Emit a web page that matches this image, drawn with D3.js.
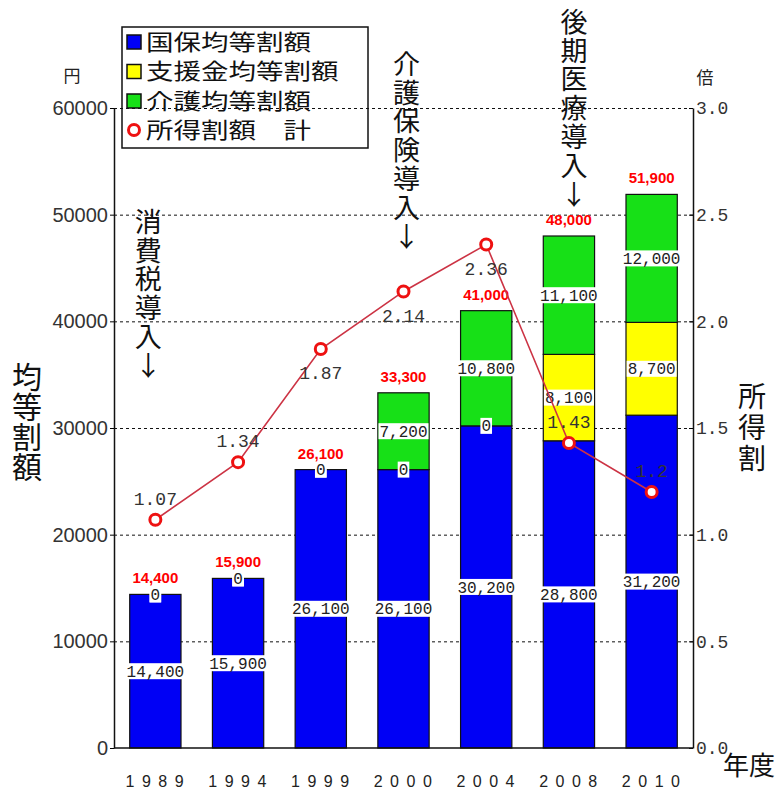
<!DOCTYPE html>
<html>
<head>
<meta charset="utf-8">
<script src="https://cdn.jsdelivr.net/npm/d3@7"></script>
<style>
  body { margin: 0; background: #fff; }
  svg { display: block; }
  .jp { font-family: "Noto Sans CJK JP", sans-serif; }
  .vert { writing-mode: vertical-rl; text-orientation: upright; }
</style>
</head>
<body>
<div id="chart"></div>
<script>
const years = ["1989", "1994", "1999", "2000", "2004", "2008", "2010"];
const kokuho = [14400, 15900, 26100, 26100, 30200, 28800, 31200];
const shienkin = [0, 0, 0, 0, 0, 8100, 8700];
const kaigo = [0, 0, 0, 7200, 10800, 11100, 12000];
const shotoku = [1.07, 1.34, 1.87, 2.14, 2.36, 1.43, 1.2];
const yTicks = [0, 10000, 20000, 30000, 40000, 50000, 60000];
const rTicks = [0, 0.5, 1.0, 1.5, 2.0, 2.5, 3.0];
const seriesNames = ["国保均等割額", "支援金均等割額", "介護均等割額"];
const lineName = "所得割額　計";
const notes = [
  { year: "1989", text: "消費税導入↓" },
  { year: "2000", text: "介護保険導入↓" },
  { year: "2008", text: "後期医療導入↓" },
];

const colors = ["#0000f5", "#ffff00", "#17e017"];
const lineColor = "#cc3344";
const markColor = "#ee1111";

const margin = { top: 108, right: 83, bottom: 46, left: 114 },
  width = 776 - margin.left - margin.right,
  height = 794 - margin.top - margin.bottom;

const svg = d3
  .select("#chart")
  .append("svg")
  .attr("width", 776)
  .attr("height", 794);

const g = svg
  .append("g")
  .attr("transform", "translate(" + margin.left + "," + margin.top + ")");

const table = years.map((yr, i) => ({
  year: yr,
  k0: kokuho[i],
  k1: shienkin[i],
  k2: kaigo[i],
}));
const keys = ["k0", "k1", "k2"];
const stacked = d3.stack().keys(keys)(table);

const x = d3.scaleBand().domain(years).range([0, width]).paddingInner(0.38).paddingOuter(0.19);
const y = d3.scaleLinear().domain([0, 60000]).range([height, 0]);
const yr = d3.scaleLinear().domain([0, 3]).range([height, 0]);
const cx = (yr0) => x(yr0) + x.bandwidth() / 2;

// grid
g.append("g")
  .call(d3.axisLeft(y).tickValues(yTicks.slice(1)).tickSize(-width).tickFormat(""))
  .call((s) => s.select(".domain").remove())
  .selectAll("line")
  .attr("stroke", "#111")
  .attr("stroke-dasharray", "3,3");

// legend (drawn under bars)
const leg = svg.append("g").attr("transform", "translate(122,27)");
leg.append("rect").attr("width", 246).attr("height", 121)
  .attr("fill", "none").attr("stroke", "#111").attr("stroke-width", 1.5);
seriesNames.forEach((name, i) => {
  const ry = 15 + i * 29.5;
  leg.append("rect").attr("x", 5).attr("y", ry - 7).attr("width", 14).attr("height", 14)
    .attr("fill", colors[i]).attr("stroke", "#111").attr("stroke-width", 1.5);
  leg.append("text").attr("class", "jp").attr("x", 24).attr("y", ry)
    .attr("dy", "0.36em").attr("font-size", 22).attr("fill", "#111")
    .attr("textLength", name.length * 27.5).attr("lengthAdjust", "spacingAndGlyphs")
    .text(name);
});
leg.append("circle").attr("cx", 12).attr("cy", 103).attr("r", 5.5)
  .attr("fill", "#fff").attr("stroke", markColor).attr("stroke-width", 3);
leg.append("text").attr("class", "jp").attr("x", 24).attr("y", 103)
  .attr("dy", "0.36em").attr("font-size", 22).attr("fill", "#111")
  .attr("textLength", lineName.length * 27.5).attr("lengthAdjust", "spacingAndGlyphs")
  .text(lineName);

// bars
g.selectAll("g.layer")
  .data(stacked)
  .join("g")
  .attr("class", "layer")
  .attr("fill", (d, i) => colors[i])
  .selectAll("rect")
  .data((d) => d)
  .join("rect")
  .attr("x", (d) => x(d.data.year))
  .attr("y", (d) => y(d[1]))
  .attr("width", x.bandwidth())
  .attr("height", (d) => y(d[0]) - y(d[1]))
  .attr("stroke", "#111")
  .attr("stroke-width", 1.2);

// segment labels
const fmt = d3.format(",");
stacked.forEach((layer) => {
  layer.forEach((d) => {
    const lx = cx(d.data.year);
    const ly = y((d[0] + d[1]) / 2);
    const lg = g.append("g");
    const t = lg.append("text")
      .attr("x", lx).attr("y", ly).attr("dy", "0.35em")
      .attr("text-anchor", "middle")
      .attr("font-family", "Liberation Mono, monospace")
      .attr("font-size", 16).attr("fill", "#222")
      .text(fmt(d[1] - d[0]));
    const b = t.node().getBBox();
    lg.insert("rect", "text")
      .attr("x", b.x - 1).attr("y", ly - 8).attr("width", b.width + 2).attr("height", 16)
      .attr("fill", "#fff");
  });
});

// totals
g.selectAll("text.total")
  .data(table)
  .join("text")
  .attr("class", "total")
  .attr("x", (d) => cx(d.year))
  .attr("y", (d) => y(d.k0 + d.k1 + d.k2) - 11)
  .attr("text-anchor", "middle")
  .attr("font-family", "Liberation Sans, Arial, sans-serif")
  .attr("font-weight", "bold")
  .attr("font-size", 15)
  .attr("fill", "#ff0000")
  .text((d) => fmt(d.k0 + d.k1 + d.k2));

// ratio line
const line = d3.line().x((d, i) => cx(years[i])).y((d) => yr(d));
g.append("path").datum(shotoku)
  .attr("d", line).attr("fill", "none")
  .attr("stroke", lineColor).attr("stroke-width", 1.6);

const below = new Set([2, 3, 4]);
g.selectAll("text.ratio")
  .data(shotoku)
  .join("text")
  .attr("class", "ratio")
  .attr("x", (d, i) => cx(years[i]))
  .attr("y", (d, i) => yr(d) + (below.has(i) ? 24 : -21))
  .attr("dy", "0.35em")
  .attr("text-anchor", "middle")
  .attr("font-family", "Liberation Mono, monospace")
  .attr("font-size", 18)
  .attr("fill", "#333")
  .text((d) => String(d));

g.selectAll("circle.mark")
  .data(shotoku)
  .join("circle")
  .attr("class", "mark")
  .attr("cx", (d, i) => cx(years[i]))
  .attr("cy", (d) => yr(d))
  .attr("r", 5.5)
  .attr("fill", "#fff")
  .attr("stroke", markColor)
  .attr("stroke-width", 3);

// axes
const yAxisG = g.append("g")
  .call(d3.axisLeft(y).tickValues(yTicks).tickSize(4).tickSizeOuter(0).tickFormat(d3.format("d")));
yAxisG.selectAll("text")
  .attr("font-family", "Liberation Sans, Arial, sans-serif")
  .attr("font-size", 20).attr("fill", "#333").attr("x", -6);

const rAxisG = g.append("g")
  .attr("transform", "translate(" + width + ",0)")
  .call(d3.axisRight(yr).tickValues(rTicks).tickSize(-4).tickSizeOuter(0).tickFormat(d3.format(".1f")));
rAxisG.selectAll("text")
  .attr("font-family", "Liberation Mono, monospace")
  .attr("font-size", 18).attr("fill", "#333").attr("x", 3);

g.selectAll(".domain").attr("stroke", "#111").attr("stroke-width", 1.5);

g.append("line")
  .attr("x1", 0).attr("x2", width).attr("y1", height).attr("y2", height)
  .attr("stroke", "#111").attr("stroke-width", 1.5);

g.selectAll("text.year")
  .data(years)
  .join("text")
  .attr("class", "year")
  .attr("x", (d) => cx(d) + 3)
  .attr("y", height + 39)
  .attr("text-anchor", "middle")
  .attr("font-family", "Liberation Sans, Arial, sans-serif")
  .attr("font-size", 16)
  .attr("letter-spacing", 7.5)
  .attr("fill", "#222")
  .text((d) => d);

// axis titles
const vText = (sel, str, px, py, size, step) => {
  sel.append("text").attr("class", "jp vert")
    .attr("x", px).attr("y", py)
    .attr("font-size", size).attr("fill", "#111")
    .attr("letter-spacing", step - size)
    .text(str);
};

svg.append("text").attr("class", "jp").attr("x", 72).attr("y", 82)
  .attr("text-anchor", "middle").attr("font-size", 17).attr("fill", "#222").text("円");
svg.append("text").attr("class", "jp").attr("x", 705).attr("y", 84)
  .attr("text-anchor", "middle").attr("font-size", 17).attr("fill", "#222").text("倍");
vText(svg, "均等割額", 27, 362, 30, 30);
vText(svg, "所得割", 752, 382, 28, 31);
svg.append("text").attr("class", "jp").attr("x", 723).attr("y", 775)
  .attr("font-size", 26).attr("fill", "#111").text("年度");

// annotations
notes.forEach((n, i) => {
  const offs = [-7, 3, 5];
  const starts = [208, 50, 8];
  vText(svg, n.text, margin.left + cx(n.year) + offs[i], starts[i], 27, 28.8);
});
</script>
</body>
</html>
